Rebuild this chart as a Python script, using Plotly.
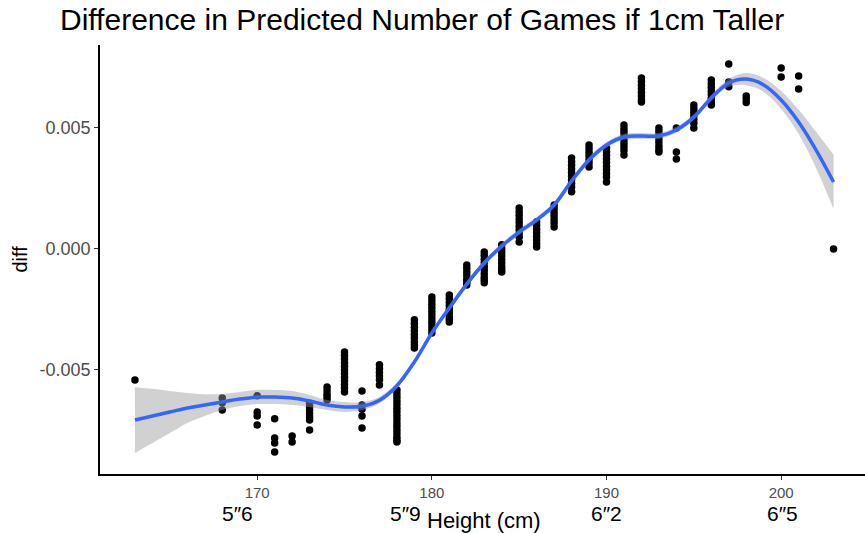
import plotly.graph_objects as go

# ---------------- data (diff values in units of 1e-3) ----------------
columns = {
    163: [-5.41],
    168: [-6.16, -6.36, -6.65],
    170: [-6.07, -6.74, -6.90, -7.27],
    171: [-7.02, -7.81, -8.02, -8.39],
    172: [-7.73, -7.98],
    173: [-6.38, -6.52, -6.66, -6.80, -6.94, -7.07, -7.48],
    174: [-5.70, -5.85, -6.00, -6.12, -6.24],
    175: [-4.26, -4.40, -4.55, -4.70, -4.85, -5.00, -5.15, -5.30, -5.45, -5.60, -5.75, -5.91],
    176: [-5.87, -6.45, -6.62, -6.90, -7.40],
    177: [-4.79, -4.95, -5.10, -5.25, -5.40, -5.62],
    178: [-5.83, -5.98, -6.13, -6.28, -6.43, -6.58, -6.73, -6.88, -7.03, -7.18, -7.33,
          -7.48, -7.63, -7.78, -7.90, -7.98],
    179: [-2.93, -3.08, -3.23, -3.38, -3.53, -3.68, -3.83, -3.96, -4.09],
    180: [-1.98, -2.13, -2.28, -2.43, -2.58, -2.73, -2.88, -3.03, -3.18, -3.33, -3.47],
    181: [-1.90, -2.05, -2.20, -2.35, -2.50, -2.65, -2.80, -2.90, -3.02],
    182: [-0.66, -0.80, -0.95, -1.10, -1.25, -1.38, -1.49],
    183: [-0.12, -0.27, -0.42, -0.57, -0.72, -0.87, -1.02, -1.17, -1.28, -1.40],
    184: [0.17, 0.02, -0.13, -0.28, -0.43, -0.58, -0.73, -0.85, -0.95],
    185: [1.69, 1.54, 1.39, 1.24, 1.09, 0.94, 0.79, 0.64, 0.49, 0.29],
    186: [1.12, 0.97, 0.82, 0.67, 0.52, 0.37, 0.22, 0.08],
    187: [1.82, 1.67, 1.52, 1.37, 1.22, 1.07, 0.91],
    188: [3.76, 3.61, 3.46, 3.31, 3.16, 3.01, 2.86, 2.71, 2.56, 2.36],
    189: [4.30, 4.15, 4.00, 3.85, 3.70, 3.55, 3.39],
    190: [4.17, 4.02, 3.87, 3.72, 3.57, 3.42, 3.27, 3.12, 2.97, 2.77],
    191: [5.12, 4.97, 4.82, 4.67, 4.52, 4.37, 4.22, 4.07, 3.88],
    192: [7.07, 6.92, 6.77, 6.62, 6.47, 6.32, 6.17, 6.07],
    193: [5.00, 4.85, 4.70, 4.55, 4.40, 4.25, 4.10, 4.01],
    194: [5.00, 4.01, 3.72],
    195: [5.95, 5.80, 5.65, 5.50, 5.35, 5.20, 5.00],
    196: [6.98, 6.83, 6.68, 6.53, 6.38, 6.23, 6.08, 5.95],
    197: [7.64, 6.90, 6.70],
    198: [6.32, 6.20, 6.05],
    200: [7.48, 7.11],
    201: [7.15, 6.61],
    203: [0.00],
}

# loess smooth (units of 1e-3)
smooth_x = list(range(163, 204))
smooth_fit = [-7.07, -6.90, -6.74, -6.57, -6.45, -6.32, -6.20, -6.12, -6.12, -6.16,
              -6.28, -6.45, -6.53, -6.50, -6.25, -5.65, -4.67, -3.47, -2.44, -1.45,
              -0.58, 0.12, 0.70, 1.20, 1.82, 2.81, 3.68, 4.30, 4.63, 4.67,
              4.67, 4.92, 5.45, 6.24, 6.86, 7.02, 6.78, 6.16, 5.25, 4.09, 2.77]
smooth_se = [1.36, 1.12, 0.87, 0.62, 0.45, 0.33, 0.29, 0.29, 0.29, 0.29,
             0.25, 0.21, 0.21, 0.17, 0.14, 0.12, 0.12, 0.12, 0.12, 0.12,
             0.12, 0.12, 0.12, 0.12, 0.12, 0.12, 0.12, 0.12, 0.12, 0.12,
             0.12, 0.12, 0.12, 0.12, 0.17, 0.25, 0.29, 0.37, 0.50, 0.75, 1.12]

x_ticks = [170, 180, 190, 200]
feet_labels = ["5″6", "5″9", "6″2", "6″5"]
feet_pos = [168.9, 178.5, 190.0, 200.1]
y_ticks = [-0.005, 0.0, 0.005]
y_ticktext = ["-0.005", "0.000", "0.005"]

# ---------------- build ----------------
px, py = [], []
for h, vals in columns.items():
    for v in vals:
        px.append(h)
        py.append(v / 1000.0)

fit = [v / 1000.0 for v in smooth_fit]
lo = [(f - s) / 1000.0 for f, s in zip(smooth_fit, smooth_se)]
hi = [(f + s) / 1000.0 for f, s in zip(smooth_fit, smooth_se)]

fig = go.Figure()
fig.add_trace(go.Scatter(x=px, y=py, mode="markers",
                         marker=dict(color="black", size=7.5, line=dict(width=0)),
                         showlegend=False, hoverinfo="x+y"))
fig.add_trace(go.Scatter(x=smooth_x, y=lo, mode="lines", line=dict(width=0, shape="spline"),
                         showlegend=False, hoverinfo="skip"))
fig.add_trace(go.Scatter(x=smooth_x, y=hi, mode="lines", line=dict(width=0, shape="spline"),
                         fill="tonexty", fillcolor="rgba(153,153,153,0.45)",
                         showlegend=False, hoverinfo="skip"))
fig.add_trace(go.Scatter(x=smooth_x, y=fit, mode="lines",
                         line=dict(color="#3366FF", width=3.5, shape="spline"),
                         showlegend=False))

fig.update_layout(
    width=865, height=533,
    margin=dict(l=100, r=0, t=45, b=59),
    plot_bgcolor="white", paper_bgcolor="white",
    font=dict(family="Liberation Sans, Arial, sans-serif", color="black"),
    title=dict(text="Difference in Predicted Number of Games if 1cm Taller",
               x=60 / 865, xref="container", xanchor="left",
               y=1 - 19 / 533, yref="container", yanchor="middle",
               font=dict(size=30, color="black")),
    xaxis=dict(range=[161.0, 204.8], tickvals=x_ticks, ticks="outside", ticklen=4,
               tickcolor="#333333", showline=True, linecolor="black", linewidth=1.8,
               showgrid=False, zeroline=False,
               tickfont=dict(size=15, color="#4d4d4d")),
    yaxis=dict(range=[-0.0093, 0.00843], tickvals=y_ticks, ticktext=y_ticktext,
               ticks="outside", ticklen=4, tickcolor="#333333", showline=True,
               linecolor="black", linewidth=1.8, showgrid=False, zeroline=False,
               tickfont=dict(size=18, color="#4d4d4d")),
)
plot_h = 533 - 45 - 59
for lab, pos in zip(feet_labels, feet_pos):
    fig.add_annotation(x=pos, xref="x", y=-(513 - 474) / plot_h, yref="paper", text=lab,
                       showarrow=False, font=dict(size=21, color="black"), yanchor="middle")
fig.add_annotation(x=(484 - 100) / 765, xref="paper", y=-(520 - 474) / plot_h, yref="paper",
                   text="Height (cm)", showarrow=False, font=dict(size=22, color="black"),
                   yanchor="middle")
fig.add_annotation(x=-(100 - 19) / 765, xref="paper", y=0.5, yref="paper", text="diff",
                   textangle=-90, showarrow=False, font=dict(size=20, color="black"),
                   xanchor="center")

fig.write_html("out.html")
